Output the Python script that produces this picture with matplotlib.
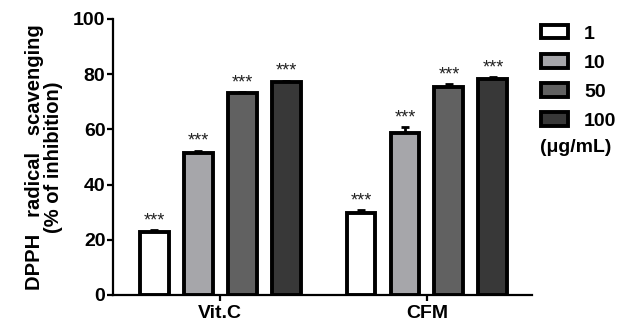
import matplotlib.pyplot as plt
import numpy as np
from matplotlib.patches import Patch

plt.rcParams['font.family'] = ['Liberation Sans', 'DejaVu Sans']

groups = ['Vit.C', 'CFM']
doses = ['1', '10', '50', '100']
colors = ['#ffffff', '#a6a6aa', '#616161', '#383838']

# % of inhibition, rows = dose, cols = group
means = [[22.9, 29.6],
         [51.6, 58.8],
         [73.1, 75.3],
         [77.3, 78.3]]
errs = [[0.6, 1.2],
        [0.7, 2.0],
        [0.5, 1.1],
        [0.4, 0.6]]

fig = plt.figure(figsize=(6.25, 3.27), dpi=100)
ax = fig.add_axes([0.181, 0.098, 0.67, 0.844])

x = np.arange(len(groups))
pitch = 0.2126
width = 0.14
for i, dose in enumerate(doses):
    pos = x + (i - 1.5) * pitch
    ax.bar(pos, means[i], width, color=colors[i], edgecolor='black',
           linewidth=2.8, zorder=3, label=dose)
    ax.errorbar(pos, means[i], yerr=[np.zeros(len(groups)), errs[i]],
                fmt='none', ecolor='black', elinewidth=2, capsize=3,
                capthick=2, zorder=2)
    for p, m, e in zip(pos, means[i], errs[i]):
        ax.text(p, m + e + 0.3, '***', ha='center', va='bottom',
                fontsize=13, color='#222222')

ax.set_xlim(-0.517, 1.507)
ax.set_ylim(0, 100)
ax.set_yticks([0, 20, 40, 60, 80, 100])
ax.set_xticks(x)
ax.set_xticklabels(groups, fontsize=14, fontweight='bold')
for lab in ax.get_yticklabels():
    lab.set_fontsize(14)
    lab.set_fontweight('bold')
ax.tick_params(axis='both', width=1.6, length=4.5, direction='out')
ax.tick_params(axis='x', pad=3)
ax.tick_params(axis='y', pad=1)
for s in ['top', 'right']:
    ax.spines[s].set_visible(False)
for s in ['left', 'bottom']:
    ax.spines[s].set_linewidth(1.6)

ax.set_ylabel('DPPH   radical   scavenging\n(% of inhibition)', fontsize=14.5,
              fontweight='bold', labelpad=7, linespacing=1.05)

handles = [Patch(facecolor=c, edgecolor='black', linewidth=2.8) for c in colors]
leg = fig.legend(handles, doses, loc='upper left',
                 bbox_to_anchor=(0.866, 0.923), frameon=False,
                 prop={'size': 14, 'weight': 'bold'},
                 handlelength=1.35, handleheight=0.67, labelspacing=0.6,
                 handletextpad=0.85, borderaxespad=0, borderpad=0)
fig.text(0.864, 0.55, '(\u03bcg/mL)', fontsize=14, fontweight='bold',
         va='center', ha='left')

fig.savefig('out.png', dpi=100)
